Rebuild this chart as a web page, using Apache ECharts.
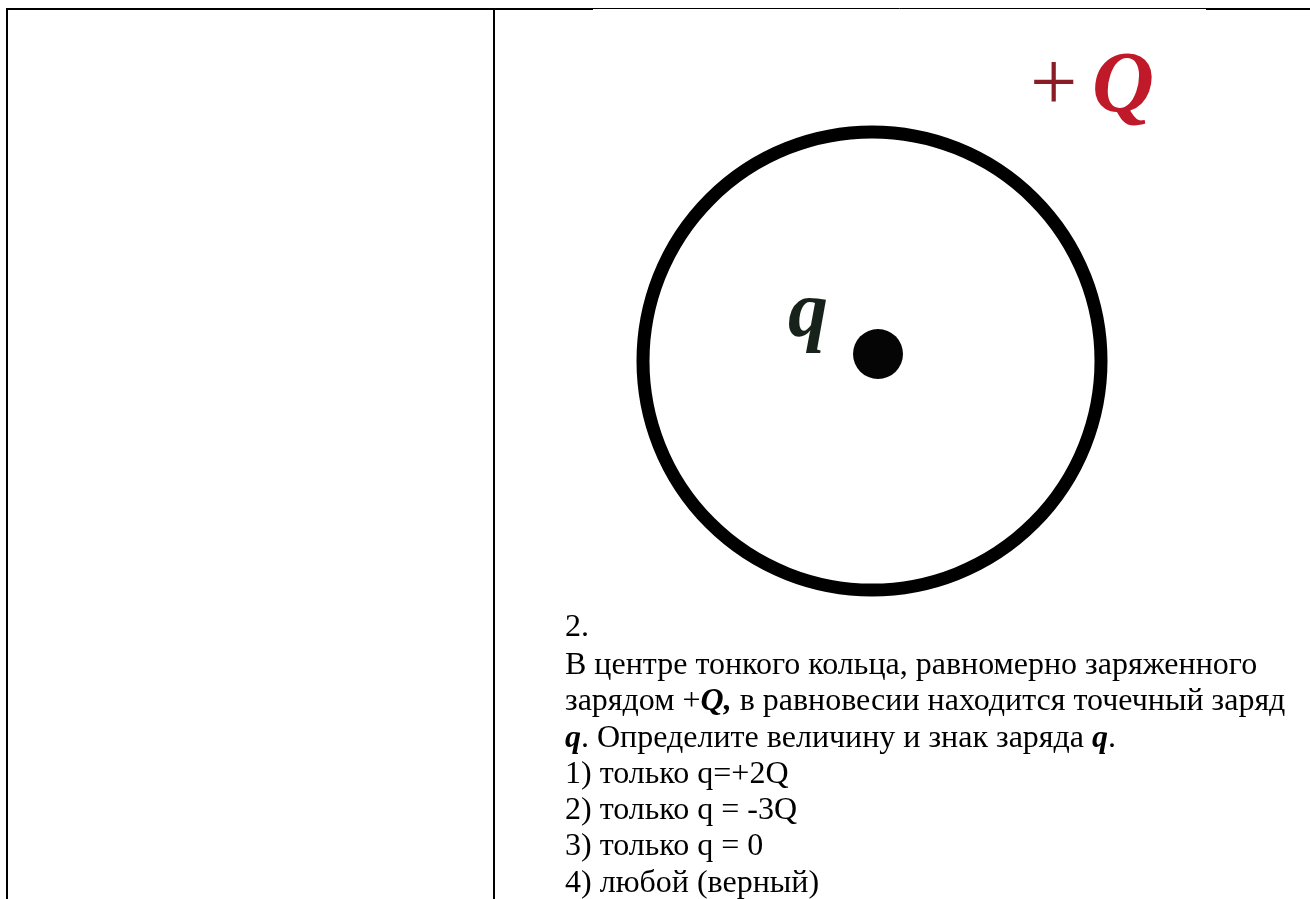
<!DOCTYPE html>
<html>
<head>
<meta charset="utf-8">
<title>Кольцо и заряд</title>
<script src="https://cdn.jsdelivr.net/npm/echarts@6/dist/echarts.min.js"></script>
<style>
  html, body { margin: 0; padding: 0; background: #fff; }
  #main { width: 1310px; height: 899px; }
</style>
</head>
<body>
<div id="main"></div>
<script>
// question text, one entry per line
const questionLines = [
  '2.',
  'В центре тонкого кольца, равномерно заряженного',
  'зарядом +{bi|Q,} в равновесии находится точечный заряд',
  '{bi|q}. Определите величину и знак заряда {bi|q}.',
  '1) только q=+2Q',
  '2) только q = -3Q',
  '3) только q = 0',
  '4) любой (верный)'
];
const ringLabel = 'Q';
const chargeLabel = 'q';

// ring and point charge, in page pixels (hidden axes map 1:1)
const ring = [[872, 361]];
const pointCharge = [[878, 354]];

const chartDom = document.getElementById('main');
const myChart = echarts.init(chartDom);

const serif = '"Liberation Serif", "DejaVu Serif", serif';
const baselines = [639, 677, 713, 750, 786, 822, 858, 895];

const textEls = questionLines.map((t, i) => ({
  type: 'text',
  x: 565,
  y: baselines[i] - 11,
  style: {
    text: t,
    fill: '#000',
    font: '32px ' + serif,
    verticalAlign: 'middle',
    rich: {
      bi: { fontFamily: serif, fontSize: 32, fontStyle: 'italic', fontWeight: 'bold', fill: '#000' }
    }
  }
}));

const option = {
  animation: false,
  backgroundColor: '#fff',
  grid: { left: 0, right: 0, top: 0, bottom: 0 },
  xAxis: { type: 'value', min: 0, max: 1310, show: false },
  yAxis: { type: 'value', min: 0, max: 899, inverse: true, show: false },
  series: [
    {
      name: 'ring',
      type: 'scatter',
      data: ring,
      symbol: 'circle',
      symbolSize: 458,
      silent: true,
      itemStyle: { color: 'rgba(0,0,0,0)', borderColor: '#000', borderWidth: 13, opacity: 1 }
    },
    {
      name: 'charge',
      type: 'scatter',
      data: pointCharge,
      symbol: 'circle',
      symbolSize: 50,
      silent: true,
      itemStyle: { color: '#050505', opacity: 1 }
    }
  ],
  graphic: [
    // table borders
    { type: 'line', shape: { x1: 6, y1: 9, x2: 593, y2: 9 }, style: { stroke: '#000', lineWidth: 2 } },
    { type: 'line', shape: { x1: 593, y1: 8.5, x2: 1206, y2: 8.5 }, style: { stroke: '#000', lineWidth: 1 } },
    { type: 'line', shape: { x1: 1206, y1: 9, x2: 1310, y2: 9 }, style: { stroke: '#000', lineWidth: 2 } },
    { type: 'line', shape: { x1: 7, y1: 8, x2: 7, y2: 899 }, style: { stroke: '#000', lineWidth: 2 } },
    { type: 'line', shape: { x1: 494, y1: 8, x2: 494, y2: 899 }, style: { stroke: '#000', lineWidth: 2 } },
    // labels in the figure
    {
      type: 'text', x: 1030, y: 130,
      style: { text: '+', fill: '#8a1c26', font: '84px ' + serif, verticalAlign: 'bottom' }
    },
    {
      type: 'text', x: 1092, y: 132,
      style: { text: ringLabel, fill: '#c01a2a', font: 'italic bold 86px ' + serif, verticalAlign: 'bottom' }
    },
    {
      type: 'text', x: 788, y: 355,
      style: { text: chargeLabel, fill: '#17221a', font: 'italic bold 80px ' + serif, verticalAlign: 'bottom' }
    }
  ].concat(textEls)
};

option && myChart.setOption(option);
</script>
</body>
</html>
